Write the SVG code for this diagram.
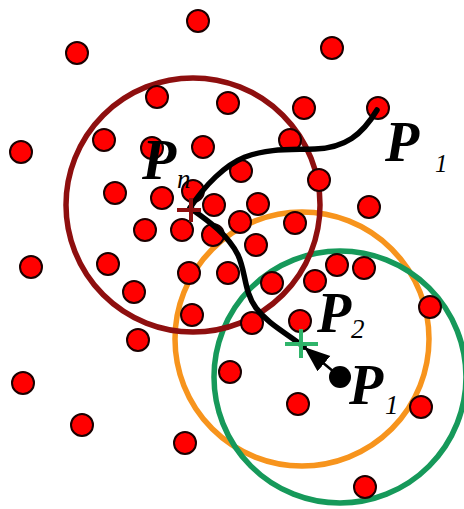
<svg xmlns="http://www.w3.org/2000/svg" width="464" height="509" viewBox="0 0 464 509">
  <style>
    .ring { fill: none; stroke-width: 5.5; }
    .dot { fill: #ff0000; stroke: #1a0000; stroke-width: 2; }
    .path { fill: none; stroke: #000; stroke-width: 5.5; stroke-linecap: round; stroke-linejoin: round; }
    .lbl { font-family: "Liberation Serif", "Times New Roman", serif; font-style: italic; font-weight: bold; fill: #000; }
    .sub { font-family: "Liberation Serif", "Times New Roman", serif; font-style: italic; fill: #000; }
  </style>
  <defs>
    <marker id="arrow" markerUnits="userSpaceOnUse" markerWidth="30" markerHeight="22" refX="26" refY="10" orient="auto">
      <path d="M0,0 L26,10 L0,20 z" fill="#000"/>
    </marker>
  </defs>

  <g id="circles">
    <circle id="circle-orange" class="ring" cx="302" cy="339" r="127" stroke="#f7941d"/>
    <circle id="circle-green" class="ring" cx="340" cy="377" r="126" stroke="#16995a"/>
    <circle id="circle-maroon" class="ring" cx="193" cy="205" r="127" stroke="#8e0f0f"/>
  </g>

  <g id="points">
    <circle class="dot" cx="198" cy="21" r="11"/>
    <circle class="dot" cx="77" cy="53" r="11"/>
    <circle class="dot" cx="332" cy="48" r="11"/>
    <circle class="dot" cx="157" cy="97" r="11"/>
    <circle class="dot" cx="228" cy="103" r="11"/>
    <circle class="dot" cx="304" cy="108" r="11"/>
    <circle class="dot" cx="378" cy="108" r="11"/>
    <circle class="dot" cx="21" cy="152" r="11"/>
    <circle class="dot" cx="104" cy="140" r="11"/>
    <circle class="dot" cx="152" cy="148" r="11"/>
    <circle class="dot" cx="203" cy="147" r="11"/>
    <circle class="dot" cx="290" cy="140" r="11"/>
    <circle class="dot" cx="241" cy="171" r="11"/>
    <circle class="dot" cx="319" cy="180" r="11"/>
    <circle class="dot" cx="115" cy="193" r="11"/>
    <circle class="dot" cx="162" cy="198" r="11"/>
    <circle class="dot" cx="193" cy="191" r="11"/>
    <circle class="dot" cx="214" cy="205" r="11"/>
    <circle class="dot" cx="258" cy="204" r="11"/>
    <circle class="dot" cx="369" cy="207" r="11"/>
    <circle class="dot" cx="145" cy="230" r="11"/>
    <circle class="dot" cx="182" cy="230" r="11"/>
    <circle class="dot" cx="213" cy="235" r="11"/>
    <circle class="dot" cx="240" cy="222" r="11"/>
    <circle class="dot" cx="295" cy="223" r="11"/>
    <circle class="dot" cx="256" cy="245" r="11"/>
    <circle class="dot" cx="31" cy="267" r="11"/>
    <circle class="dot" cx="108" cy="264" r="11"/>
    <circle class="dot" cx="189" cy="273" r="11"/>
    <circle class="dot" cx="228" cy="273" r="11"/>
    <circle class="dot" cx="272" cy="283" r="11"/>
    <circle class="dot" cx="315" cy="281" r="11"/>
    <circle class="dot" cx="337" cy="265" r="11"/>
    <circle class="dot" cx="364" cy="268" r="11"/>
    <circle class="dot" cx="134" cy="292" r="11"/>
    <circle class="dot" cx="192" cy="315" r="11"/>
    <circle class="dot" cx="252" cy="323" r="11"/>
    <circle class="dot" cx="300" cy="321" r="11"/>
    <circle class="dot" cx="430" cy="307" r="11"/>
    <circle class="dot" cx="138" cy="340" r="11"/>
    <circle class="dot" cx="23" cy="383" r="11"/>
    <circle class="dot" cx="230" cy="372" r="11"/>
    <circle class="dot" cx="298" cy="404" r="11"/>
    <circle class="dot" cx="421" cy="407" r="11"/>
    <circle class="dot" cx="82" cy="425" r="11"/>
    <circle class="dot" cx="185" cy="443" r="11"/>
    <circle class="dot" cx="365" cy="487" r="11"/>
  </g>

  <g id="connectors">
    <path class="path" d="M377,110 C362,135 345,148 315,149 C290,150 270,148 245,157 C225,165 205,185 190,208"/>
    <path class="path" d="M190,208 C210,222 228,235 238,255 C246,272 244,292 256,308 C268,324 288,334 304,347"/>
    <line x1="340" y1="377" x2="304" y2="347" stroke="#000" stroke-width="2.5" marker-end="url(#arrow)"/>
  </g>

  <g id="Pn-marker">
    <path d="M177,210 H201 M191,198 V222" stroke="#8e0f0f" stroke-width="4" fill="none"/>
  </g>
  <g id="P2-marker">
    <path d="M285,344 H318 M301,329 V358" stroke="#2fb46a" stroke-width="4" fill="none"/>
  </g>
  <g id="P1-point">
    <circle cx="340" cy="377" r="11" fill="#000"/>
  </g>

  <g id="labels">
    <g id="label-P1-top">
      <text class="lbl" x="385" y="161" font-size="56">P</text>
      <text class="sub" x="435" y="172" font-size="25">1</text>
    </g>
    <g id="label-Pn">
      <text class="lbl" x="142" y="179" font-size="56">P</text>
      <text class="sub" x="177" y="188" font-size="27">n</text>
    </g>
    <g id="label-P2">
      <text class="lbl" x="317" y="332" font-size="56">P</text>
      <text class="sub" x="351" y="338" font-size="27">2</text>
    </g>
    <g id="label-P1">
      <text class="lbl" x="349" y="404" font-size="56">P</text>
      <text class="sub" x="385" y="414" font-size="27">1</text>
    </g>
  </g>
</svg>
